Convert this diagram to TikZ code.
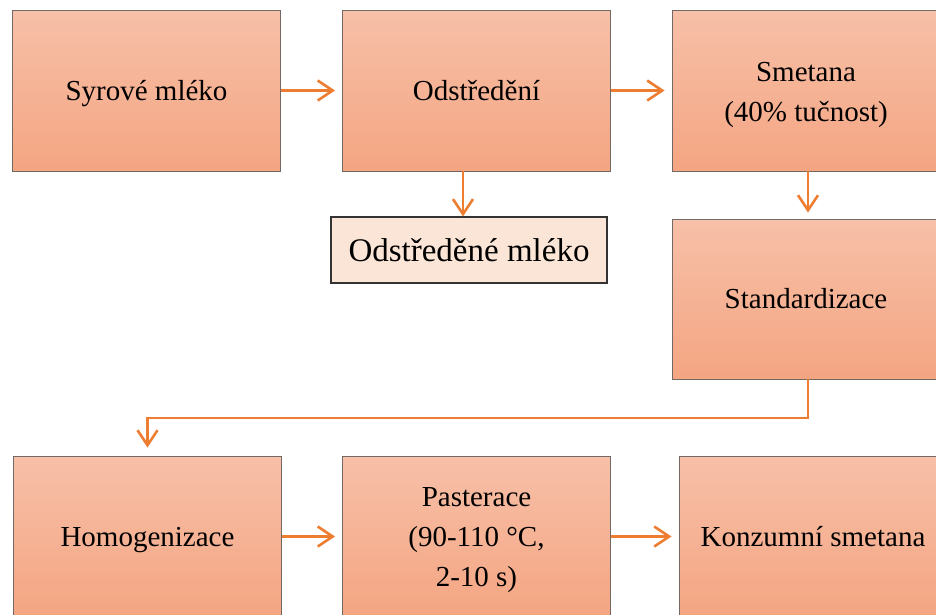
\documentclass[tikz,border=0pt]{standalone}
\usepackage{fontspec}
\setmainfont{Liberation Serif}
\usetikzlibrary{arrows.meta}
\definecolor{boxtop}{RGB}{247,192,168}
\definecolor{boxbot}{RGB}{244,165,130}
\definecolor{boxline}{RGB}{115,105,100}
\definecolor{lightfill}{RGB}{251,229,214}
\definecolor{arrc}{RGB}{237,125,49}
\tikzset{
  procbox/.style={draw=boxline, line width=0.9pt, top color=boxtop, bottom color=boxbot,
    minimum width=268pt, minimum height=161pt, inner sep=0pt},
  proctext/.style={align=center, inner sep=0pt, yshift=-4pt,
    font=\fontsize{29}{40}\selectfont},
  onetext/.style={inner sep=0pt, text height=26pt, text depth=7pt,
    font=\fontsize{29}{40}\selectfont},
  outbox/.style={draw=black!80, line width=1.1pt, fill=lightfill,
    minimum width=276pt, minimum height=66pt, inner sep=0pt,
    font=\fontsize{33}{40}\selectfont},
  arr/.style={draw=arrc, line width=2.6pt, -{Straight Barb[length=15pt,width=20pt,line width=2.6pt]}}
}
\begin{document}
\begin{tikzpicture}[x=1pt,y=-1pt]
\useasboundingbox (0,0) rectangle (936,614);
\clip (0,0) rectangle (936,614);
\node[procbox] (b1) at (146.5,90.5) {};
\node[onetext] (t1) at (b1) {Syrové mléko};
\node[procbox] (b2) at (476.5,90.5) {};
\node[onetext] (t2) at (b2) {Odstředění};
\node[procbox] (b3) at (806,90.5) {};
\node[proctext] (t3) at (b3) {Smetana\\(40\% tučnost)};
\node[outbox] (om) at (469,250) {Odstředěné mléko};
\node[procbox, minimum height=160pt] (st) at (806,299) {};
\node[onetext] (t4) at (st) {Standardizace};
\node[procbox] (h) at (147.5,536.5) {};
\node[onetext] (t5) at (h) {Homogenizace};
\node[procbox] (p) at (476.5,536.5) {};
\node[proctext] (t6) at (p) {Pasterace\\(90-110 °C,\\2-10 s)};
\node[procbox] (k) at (813,536.5) {};
\node[onetext] (t7) at (k) {Konzumní smetana};
\coordinate (bend) at (0,418);
\draw[arr, shorten >=7pt] (b1.east) -- (b2.west);
\draw[arr, shorten >=7pt] (b2.east) -- (b3.west);
\draw[arr] ([xshift=-13.5pt]b2.south) -- ([xshift=-13.5pt]b2.south |- om.north);
\draw[arr, shorten >=6pt] ([xshift=2pt]b3.south) -- ([xshift=2pt]b3.south |- st.north);
\draw[arr, shorten >=8pt] ([xshift=2pt]st.south) -- ([xshift=2pt]st.south |- bend) -- (h.north |- bend) -- (h.north);
\draw[arr, shorten >=7pt] (h.east) -- (p.west);
\draw[arr, shorten >=7pt] (p.east) -- (k.west);
\end{tikzpicture}
\end{document}
